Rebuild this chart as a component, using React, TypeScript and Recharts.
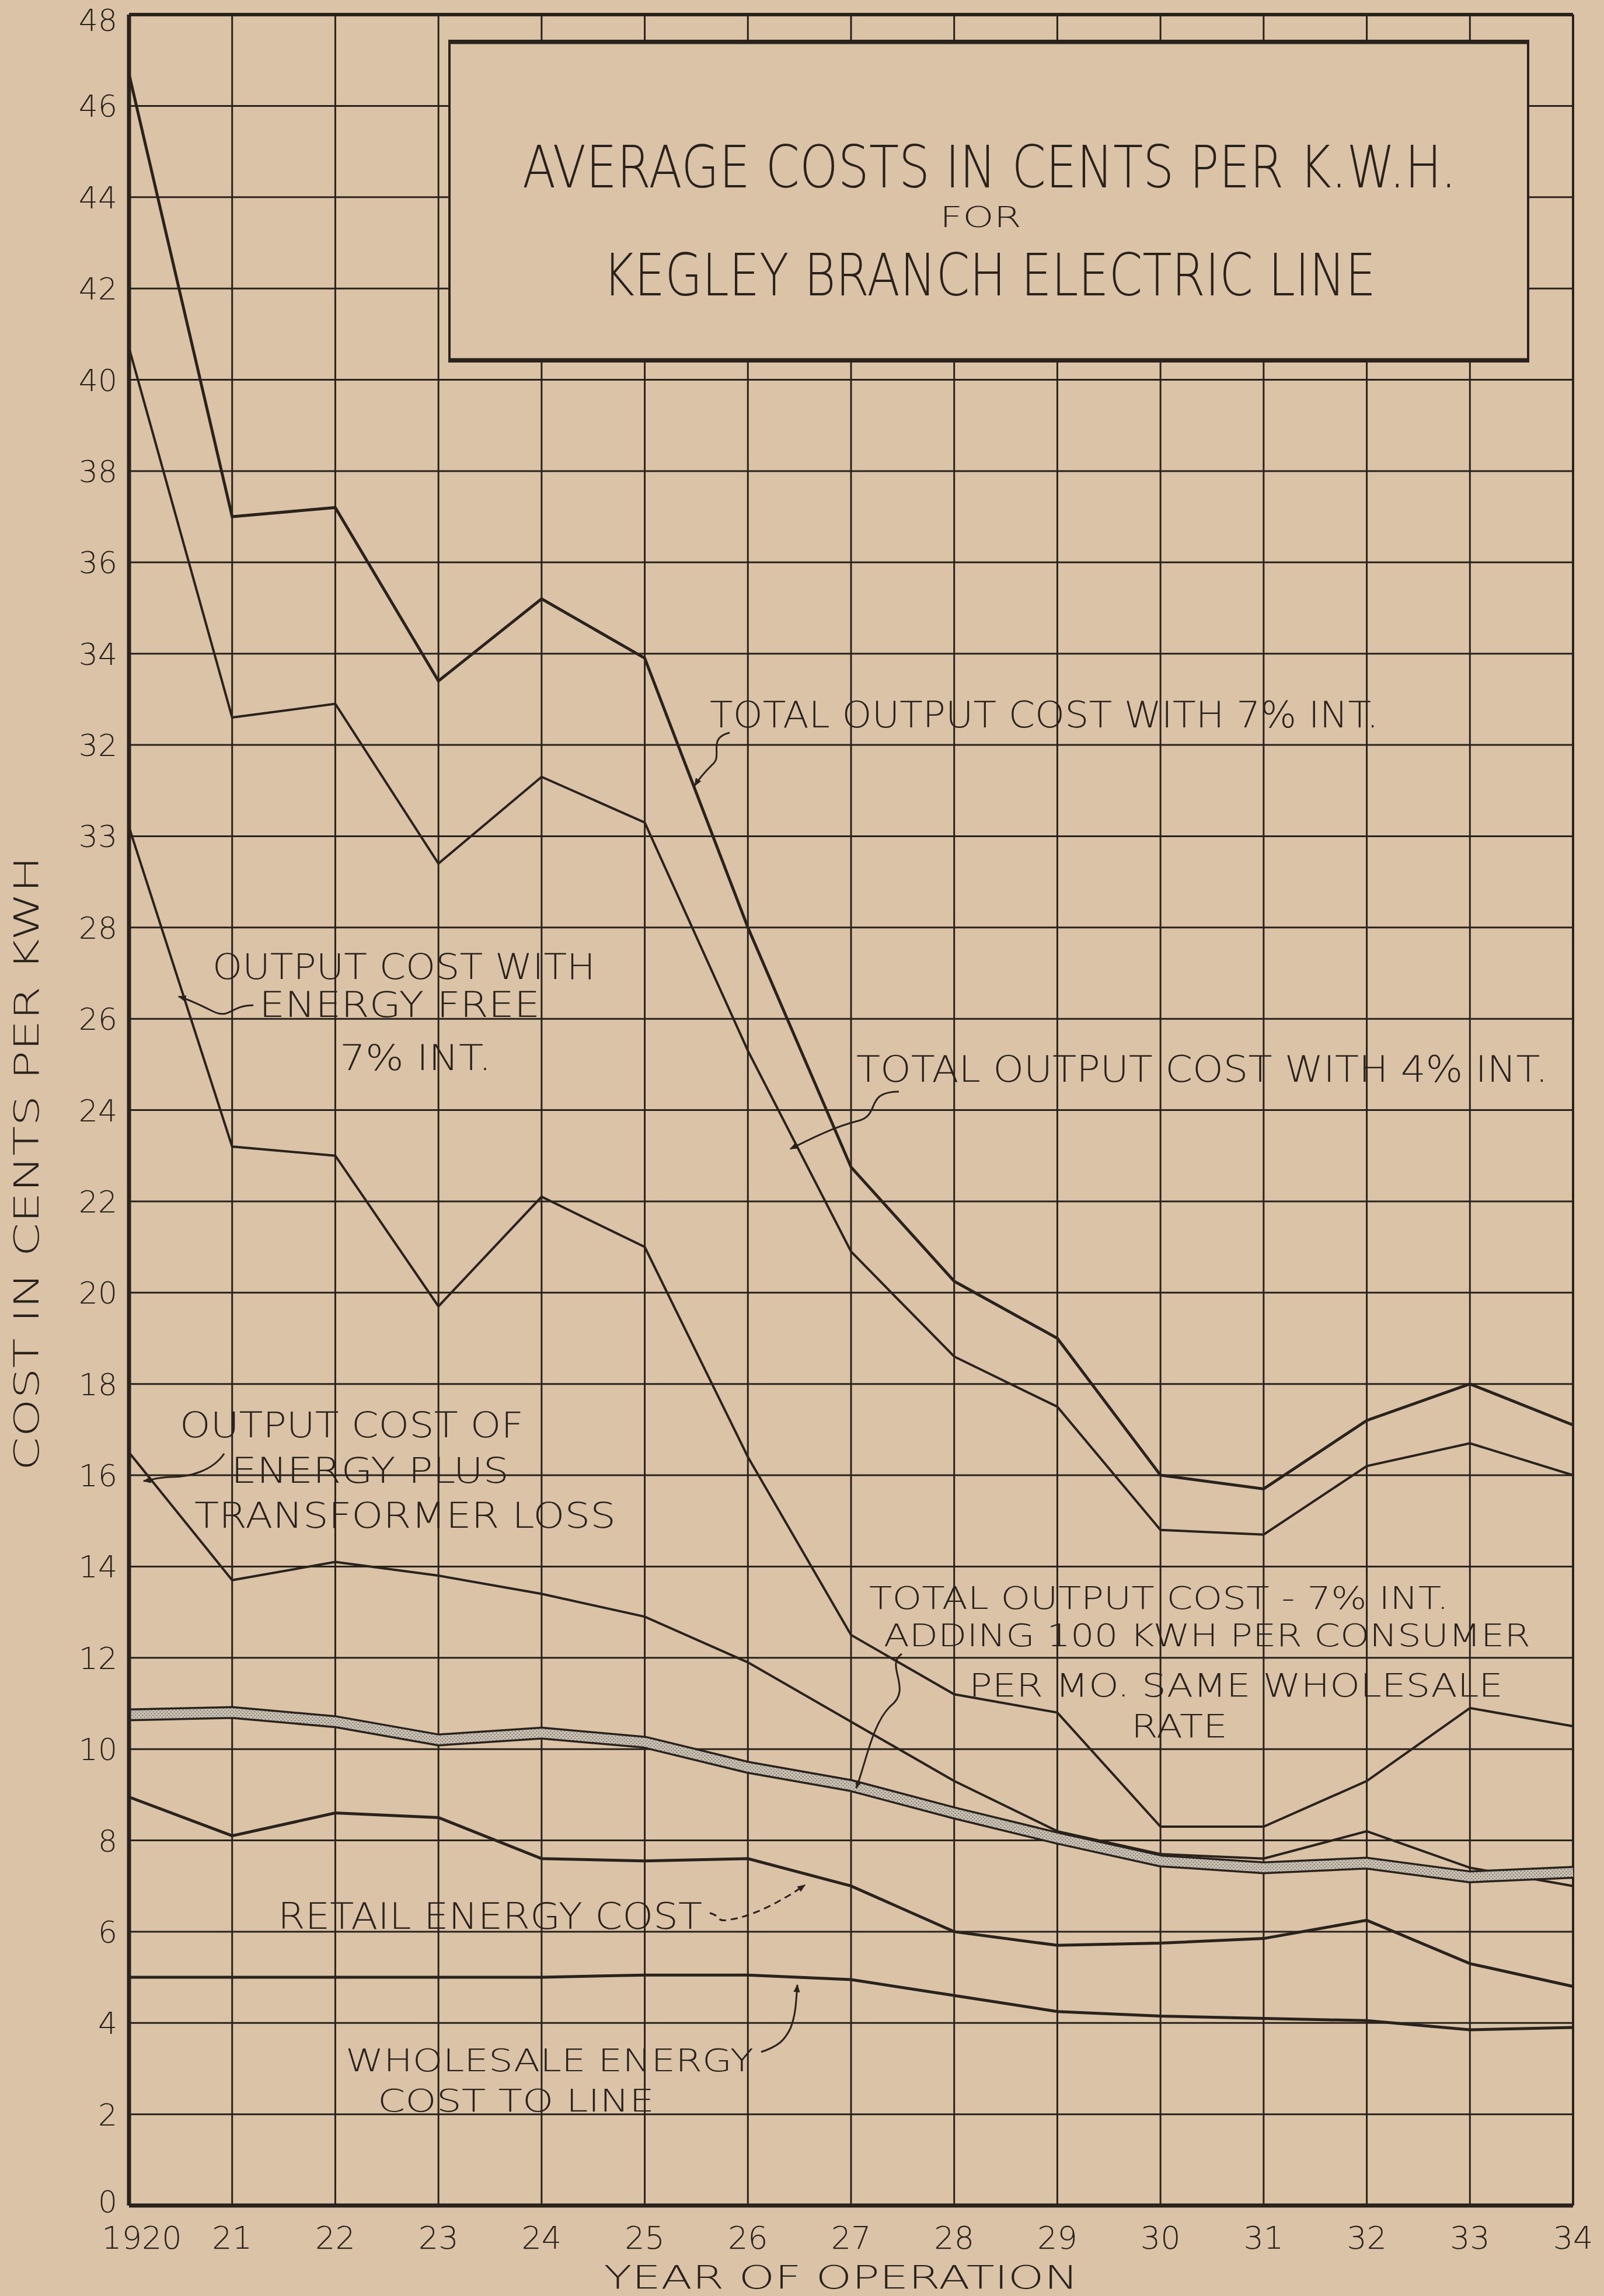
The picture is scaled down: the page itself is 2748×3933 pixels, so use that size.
import React from "react";
import {
  ComposedChart,
  Line,
  XAxis,
  YAxis,
  CartesianGrid,
  ReferenceLine,
} from "recharts";

const years = [1920, 1921, 1922, 1923, 1924, 1925, 1926, 1927, 1928, 1929, 1930, 1931, 1932, 1933, 1934];
const yearLabels = ["1920", "21", "22", "23", "24", "25", "26", "27", "28", "29", "30", "31", "32", "33", "34"];

const yTicks = [0, 2, 4, 6, 8, 10, 12, 14, 16, 18, 20, 22, 24, 26, 28, 30, 32, 34, 36, 38, 40, 42, 44, 46, 48];
// the hand-lettered "30" on the original reads as "33"
const yTickLabels = ["0", "2", "4", "6", "8", "10", "12", "14", "16", "18", "20", "22", "24", "26", "28", "33", "32", "34", "36", "38", "40", "42", "44", "46", "48"];

const total7 = [46.7, 37.0, 37.2, 33.4, 35.2, 33.9, 28.0, 22.75, 20.25, 19.0, 16.0, 15.7, 17.2, 18.0, 17.1];
const total4 = [40.7, 32.6, 32.9, 29.4, 31.3, 30.3, 25.3, 20.9, 18.6, 17.5, 14.8, 14.7, 16.2, 16.7, 16.0];
const energyFree = [30.2, 23.2, 23.0, 19.7, 22.1, 21.0, 16.4, 12.5, 11.2, 10.8, 8.3, 8.3, 9.3, 10.9, 10.5];
const transformerLoss = [16.5, 13.7, 14.1, 13.8, 13.4, 12.9, 11.9, 10.6, 9.3, 8.2, 7.7, 7.6, 8.2, 7.4, 7.0];
const adding100 = [10.75, 10.8, 10.6, 10.2, 10.35, 10.15, 9.6, 9.2, 8.6, 8.05, 7.55, 7.4, 7.5, 7.2, 7.3];
const retail = [8.95, 8.1, 8.6, 8.5, 7.6, 7.55, 7.6, 7.0, 6.0, 5.7, 5.75, 5.85, 6.25, 5.3, 4.8];
const wholesale = [5.0, 5.0, 5.0, 5.0, 5.0, 5.05, 5.05, 4.95, 4.6, 4.25, 4.15, 4.1, 4.05, 3.85, 3.9];

const data = years.map((year, i) => ({
  year,
  total7: total7[i],
  total4: total4[i],
  energyFree: energyFree[i],
  transformerLoss: transformerLoss[i],
  adding100: adding100[i],
  retail: retail[i],
  wholesale: wholesale[i],
}));

const W = 2748;
const H = 3933;
const PAPER = "#dac3a6";
const INK = "#2a231c";
const FONT = "'DejaVu Sans', 'Liberation Sans', sans-serif";

const YTick = (props: any) => {
  const { x, y, payload } = props;
  const idx = yTicks.indexOf(payload.value);
  // nudge the end labels so they stay clear of the page edge and the year row
  const dy = payload.value === 48 ? 28 : payload.value === 0 ? 12 : 19;
  return (
    <text x={x - 12} y={y + dy} textAnchor="end" fontSize={52} fontFamily={FONT} fontWeight={300} fill={INK}>
      {yTickLabels[idx]}
    </text>
  );
};

const XTick = (props: any) => {
  const { x, y, payload } = props;
  const idx = years.indexOf(payload.value);
  return (
    <text x={x + (idx === 0 ? 22 : 0)} y={y + 66} textAnchor="middle" fontSize={54} fontFamily={FONT} fontWeight={300} fill={INK}>
      {yearLabels[idx]}
    </text>
  );
};

type Note = { t: string; x: number; y: number; len: number; size?: number };

const notes: Note[] = [
  { t: "TOTAL OUTPUT COST WITH 7% INT.", x: 1216, y: 1246, len: 1146 },
  { t: "TOTAL OUTPUT COST WITH 4% INT.", x: 1467, y: 1853, len: 1185 },
  { t: "OUTPUT COST WITH", x: 364, y: 1677, len: 656, size: 60 },
  { t: "ENERGY FREE", x: 444, y: 1742, len: 481, size: 60 },
  { t: "7% INT.", x: 582, y: 1833, len: 260, size: 60 },
  { t: "OUTPUT COST OF", x: 308, y: 2462, len: 589, size: 60 },
  { t: "ENERGY PLUS", x: 396, y: 2540, len: 476, size: 60 },
  { t: "TRANSFORMER LOSS", x: 333, y: 2617, len: 722, size: 60 },
  { t: "TOTAL OUTPUT COST - 7% INT.", x: 1489, y: 2756, len: 993, size: 54 },
  { t: "ADDING 100 KWH PER CONSUMER", x: 1514, y: 2820, len: 1108, size: 54 },
  { t: "PER MO. SAME WHOLESALE", x: 1660, y: 2906, len: 915, size: 56 },
  { t: "RATE", x: 1938, y: 2976, len: 165, size: 56 },
  { t: "RETAIL ENERGY COST", x: 476, y: 3304, len: 727 },
  { t: "WHOLESALE ENERGY", x: 592, y: 3548, len: 699, size: 54 },
  { t: "COST TO LINE", x: 647, y: 3617, len: 474, size: 54 },
];

// little hand-drawn pointer arrows from the notes to their curves
const arrows = [
  "M1250,1255 c-40,10 -10,40 -30,55 c-10,10 -20,20 -30,36",
  "M1540,1870 c-60,0 -30,40 -70,50 c-40,10 -80,30 -116,48",
  "M434,1722 c-40,0 -40,25 -70,10 c-20,-10 -40,-20 -58,-25",
  "M384,2490 c-20,30 -60,40 -90,40 c-20,0 -35,5 -48,7",
  "M1545,2833 c-30,20 20,60 -20,90 c-30,30 -40,90 -58,140",
  "M1216,3277 c20,5 10,15 30,12 c40,-5 90,-30 133,-60",
  "M1304,3515 c30,-10 40,-20 50,-40 c10,-25 10,-50 12,-75",
];

export default function App() {
  return (
    <div style={{ position: "absolute", left: 0, top: 0, width: W, height: H, background: PAPER }}>
      <ComposedChart width={W} height={H} data={data} margin={{ top: 25, right: 53, left: 0, bottom: 0 }}>
        <defs>
          <pattern id="hatch" width="6" height="6" patternUnits="userSpaceOnUse">
            <rect width="6" height="6" fill="#cbc3b6" />
            <circle cx="1.5" cy="1.5" r="1.1" fill="#6e665c" />
            <circle cx="4.5" cy="4.5" r="1.1" fill="#6e665c" />
          </pattern>
        </defs>
        <CartesianGrid stroke={INK} strokeWidth={3} />
        <XAxis
          dataKey="year"
          type="number"
          domain={[1920, 1934]}
          ticks={years}
          interval={0}
          height={155}
          tickLine={false}
          axisLine={{ stroke: INK, strokeWidth: 7 }}
          tick={<XTick />}
        />
        <YAxis
          type="number"
          domain={[0, 48]}
          ticks={yTicks}
          interval={0}
          width={221}
          tickLine={false}
          axisLine={{ stroke: INK, strokeWidth: 7 }}
          tick={<YTick />}
        />
        <ReferenceLine y={48} stroke={INK} strokeWidth={6} />
        <ReferenceLine x={1934} stroke={INK} strokeWidth={4} />
        <Line dataKey="total7" type="linear" stroke={INK} strokeWidth={5} dot={false} isAnimationActive={false} />
        <Line dataKey="total4" type="linear" stroke={INK} strokeWidth={4} dot={false} isAnimationActive={false} />
        <Line dataKey="energyFree" type="linear" stroke={INK} strokeWidth={4} dot={false} isAnimationActive={false} />
        <Line dataKey="transformerLoss" type="linear" stroke={INK} strokeWidth={4} dot={false} isAnimationActive={false} />
        <Line dataKey="adding100" type="linear" stroke={INK} strokeWidth={22} strokeLinejoin="round" dot={false} isAnimationActive={false} />
        <Line dataKey="adding100" type="linear" stroke="url(#hatch)" strokeWidth={15} strokeLinejoin="round" dot={false} isAnimationActive={false} />
        <Line dataKey="retail" type="linear" stroke={INK} strokeWidth={5} dot={false} isAnimationActive={false} />
        <Line dataKey="wholesale" type="linear" stroke={INK} strokeWidth={5} dot={false} isAnimationActive={false} />
      </ComposedChart>

      <svg width={W} height={H} style={{ position: "absolute", left: 0, top: 0, pointerEvents: "none" }}>
        <defs>
          <marker id="head" viewBox="0 0 10 10" refX="9" refY="5" markerWidth="14" markerHeight="14" orient="auto-start-reverse" markerUnits="userSpaceOnUse">
            <path d="M0,1 L10,5 L0,9 z" fill={INK} />
          </marker>
        </defs>

        {/* title box */}
        <rect x={770} y={70} width={1848} height={549} fill={PAPER} stroke={INK} strokeWidth={4} />
        <line x1={770} y1={72} x2={2618} y2={72} stroke={INK} strokeWidth={7} />
        <line x1={770} y1={617} x2={2618} y2={617} stroke={INK} strokeWidth={7} />
        <text x={1695} y={321} textAnchor="middle" fontSize={100} fontFamily={FONT} fontWeight={200} fill={INK} textLength={1600} lengthAdjust="spacingAndGlyphs">
          AVERAGE COSTS IN CENTS PER K.W.H.
        </text>
        <text x={1680} y={389} textAnchor="middle" fontSize={50} fontFamily={FONT} fontWeight={300} fill={INK} textLength={140} lengthAdjust="spacingAndGlyphs">
          FOR
        </text>
        <text x={1695} y={506} textAnchor="middle" fontSize={100} fontFamily={FONT} fontWeight={200} fill={INK} textLength={1324} lengthAdjust="spacingAndGlyphs">
          KEGLEY BRANCH ELECTRIC LINE
        </text>

        {notes.map((n) => (
          <text key={n.t} x={n.x} y={n.y} fontSize={n.size ?? 62} fontFamily={FONT} fontWeight={300} fill={INK} textLength={n.len} lengthAdjust="spacingAndGlyphs">
            {n.t}
          </text>
        ))}

        {arrows.map((d, i) => (
          <path key={i} d={d} fill="none" stroke={INK} strokeWidth={3} strokeDasharray={i === 5 ? "12 8" : undefined} markerEnd="url(#head)" />
        ))}

        {/* axis titles */}
        <text x={1441} y={3920} textAnchor="middle" fontSize={56} fontFamily={FONT} fontWeight={300} fill={INK} textLength={813} lengthAdjust="spacingAndGlyphs">
          YEAR OF OPERATION
        </text>
        <text transform="translate(66,1993) rotate(-90)" textAnchor="middle" fontSize={58} fontFamily={FONT} fontWeight={300} fill={INK} textLength={1053} lengthAdjust="spacingAndGlyphs">
          COST IN CENTS PER KWH
        </text>
      </svg>
    </div>
  );
}
